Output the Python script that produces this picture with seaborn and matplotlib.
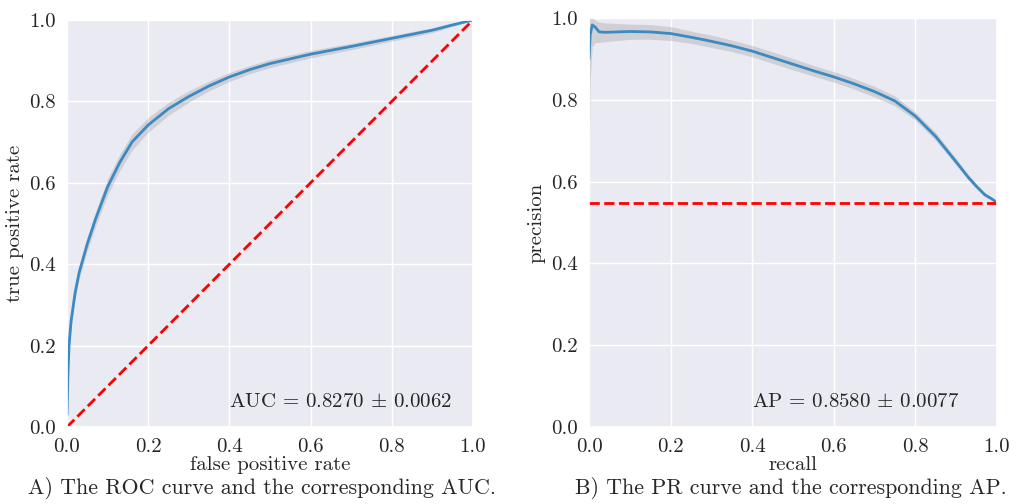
import matplotlib
matplotlib.use("Agg")
import matplotlib.pyplot as plt
import seaborn as sns
import numpy as np

# ROC curve (mean) and band
fpr = [0.0, 0.002, 0.005, 0.01, 0.02, 0.03, 0.05, 0.07, 0.1, 0.13, 0.16, 0.2,
       0.25, 0.3, 0.35, 0.4, 0.45, 0.5, 0.6, 0.7, 0.8, 0.9, 0.95, 1.0]
tpr = [0.03, 0.12, 0.2, 0.26, 0.33, 0.38, 0.45, 0.51, 0.59, 0.65, 0.70, 0.742,
       0.782, 0.812, 0.838, 0.86, 0.878, 0.893, 0.916, 0.935, 0.955, 0.975, 0.988, 1.0]
tpr_band = [0.0, 0.01, 0.012, 0.014, 0.015, 0.016, 0.017, 0.018, 0.02, 0.02, 0.02, 0.018,
            0.016, 0.014, 0.012, 0.011, 0.01, 0.01, 0.009, 0.008, 0.007, 0.006, 0.004, 0.0]
auc_text = "AUC = 0.8270 $\\pm$ 0.0062"

# PR curve (mean) and band
recall = [0.0, 0.003, 0.008, 0.015, 0.025, 0.04, 0.1, 0.15, 0.2, 0.25, 0.3, 0.35,
          0.4, 0.45, 0.5, 0.55, 0.6, 0.65, 0.7, 0.75, 0.8, 0.85, 0.9, 0.93,
          0.95, 0.97, 0.99, 1.0]
precision = [0.90, 0.96, 0.983, 0.978, 0.966, 0.965, 0.967, 0.966, 0.962, 0.953, 0.943, 0.932,
             0.919, 0.903, 0.887, 0.871, 0.856, 0.839, 0.82, 0.797, 0.76, 0.71, 0.648, 0.61,
             0.588, 0.568, 0.556, 0.548]
prec_lo = [0.60, 0.85, 0.93, 0.94, 0.94, 0.942, 0.948, 0.948, 0.945, 0.938, 0.928, 0.918,
           0.905, 0.889, 0.873, 0.858, 0.843, 0.826, 0.807, 0.785, 0.75, 0.70, 0.64, 0.603,
           0.582, 0.563, 0.553, 0.548]
prec_hi = [1.0, 1.0, 1.0, 0.995, 0.99, 0.988, 0.985, 0.984, 0.979, 0.968, 0.958, 0.946,
           0.933, 0.917, 0.901, 0.884, 0.869, 0.852, 0.833, 0.809, 0.77, 0.72, 0.656, 0.617,
           0.594, 0.573, 0.559, 0.548]
baseline = 0.548
ap_text = "AP = 0.8580 $\\pm$ 0.0077"

sns.set_theme(style="darkgrid")
plt.rcParams["font.family"] = "serif"
plt.rcParams["font.serif"] = ["cmr10"]
plt.rcParams["mathtext.fontset"] = "cm"
plt.rcParams["axes.formatter.use_mathtext"] = True

line_color = "#3c8ac2"
fs = 15

fig = plt.figure(figsize=(10.22, 5.04), dpi=100)
ax1 = fig.add_axes([67 / 1022, 77 / 504, 406 / 1022, 407 / 504])
ax2 = fig.add_axes([589 / 1022, 77 / 504, 408 / 1022, 409 / 504])

# ROC
ax1.fill_between(fpr, np.array(tpr) - np.array(tpr_band), np.array(tpr) + np.array(tpr_band),
                 color="grey", alpha=0.25, lw=0)
sns.lineplot(x=fpr, y=tpr, ax=ax1, color=line_color, lw=2)
ax1.plot([0, 1], [0, 1], "--", color="red", lw=2)
ax1.text(0.4, 0.05, auc_text, fontsize=fs)
ax1.set_xlabel("false positive rate", fontsize=fs)
ax1.set_ylabel("true positive rate", fontsize=fs)

# PR
ax2.fill_between(recall, prec_lo, prec_hi, color="grey", alpha=0.25, lw=0)
sns.lineplot(x=recall, y=precision, ax=ax2, color=line_color, lw=2)
ax2.axhline(baseline, ls="--", color="red", lw=2)
ax2.text(0.4, 0.05, ap_text, fontsize=fs)
ax2.set_xlabel("recall", fontsize=fs)
ax2.set_ylabel("precision", fontsize=fs)

for ax in (ax1, ax2):
    ax.set_xlim(0, 1)
    ax.set_ylim(0, 1)
    ax.set_xticks([0, 0.2, 0.4, 0.6, 0.8, 1.0])
    ax.set_yticks([0, 0.2, 0.4, 0.6, 0.8, 1.0])
    ax.set_xticklabels(["0.0", "0.2", "0.4", "0.6", "0.8", "1.0"])
    ax.set_yticklabels(["0.0", "0.2", "0.4", "0.6", "0.8", "1.0"])
    ax.tick_params(labelsize=fs, pad=2)
    ax.xaxis.labelpad = 0
    ax.yaxis.labelpad = 4

fig.text(262 / 1022, 1 - 488 / 504, "A) The ROC curve and the corresponding AUC.",
         ha="center", va="center", fontsize=15.8)
fig.text(791 / 1022, 1 - 488 / 504, "B) The PR curve and the corresponding AP.",
         ha="center", va="center", fontsize=15.8)

fig.savefig("out.png", dpi=100)
